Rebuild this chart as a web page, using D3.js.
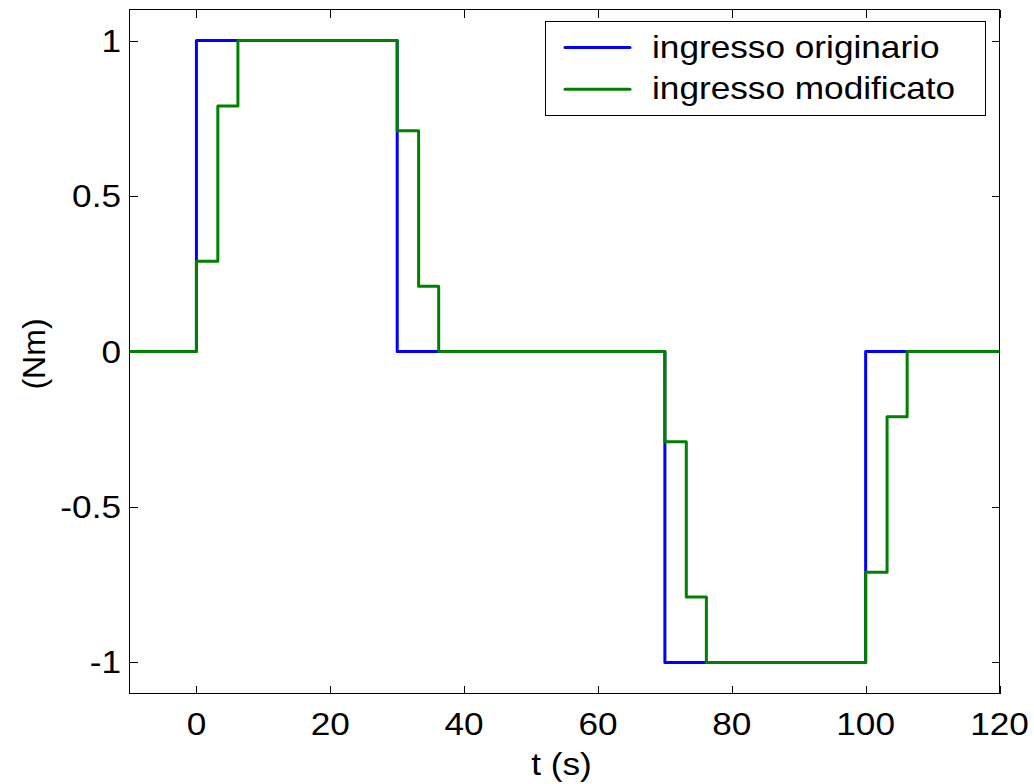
<!DOCTYPE html>
<html>
<head>
<meta charset="utf-8">
<script src="https://cdn.jsdelivr.net/npm/d3@7"></script>
<style>
  html, body { margin: 0; padding: 0; background: #fff; }
  svg { display: block; }
  text { font-family: Arial, "Liberation Sans", Helvetica, sans-serif; fill: #000; }
</style>
</head>
<body>
<svg id="chart" width="1034" height="784"></svg>
<script>
// ---- data (step signals: value holds from each time until the next) ----
const origTimes  = [-10, 0, 30, 70, 100, 120];
const origValues = [0, 1, 0, -1, 0, 0];
const modTimes   = [-10, 0, 3.2, 6.2, 30, 33.2, 36.2, 70, 73.2, 76.2, 100, 103.2, 106.2, 120];
const modValues  = [0, 0.29, 0.79, 1, 0.71, 0.21, 0, -0.29, -0.79, -1, -0.71, -0.21, 0, 0];
const xTicks = [0, 20, 40, 60, 80, 100, 120];
const yTicks = [-1, -0.5, 0, 0.5, 1];
const seriesNames = ["ingresso originario", "ingresso modificato"];
const seriesColors = ["#0000ff", "#008000"];
const xLabel = "t (s)";
const yLabel = "(Nm)";

const svg = d3.select("#chart");
const L = 129.5, R = 999.5, T = 9.5, B = 693.5;
const x = d3.scaleLinear().domain([-10, 120]).range([L, R]);
const y = d3.scaleLinear().domain([-1.1, 1.1]).range([B, T]);
const FS = 32, SX = 1.1;

const tickLen = 8;
const axes = svg.append("g").attr("stroke", "#000").attr("stroke-width", 1).attr("shape-rendering", "crispEdges");
axes.append("rect").attr("x", L).attr("y", T).attr("width", R - L).attr("height", B - T).attr("fill", "none");
xTicks.forEach(t => {
  const px = Math.round(x(t)) + 0.5;
  axes.append("line").attr("x1", px).attr("x2", px).attr("y1", B).attr("y2", B - tickLen);
  axes.append("line").attr("x1", px).attr("x2", px).attr("y1", T).attr("y2", T + tickLen);
});
yTicks.forEach(v => {
  const py = Math.round(y(v)) + 0.5;
  axes.append("line").attr("x1", L).attr("x2", L + tickLen).attr("y1", py).attr("y2", py);
  axes.append("line").attr("x1", R).attr("x2", R - tickLen).attr("y1", py).attr("y2", py);
});

function label(txt, px, py, anchor) {
  svg.append("text")
    .attr("transform", `translate(${px},${py}) scale(${SX},1)`)
    .attr("text-anchor", anchor)
    .attr("font-size", FS)
    .text(txt);
}
xTicks.forEach(t => label(String(t), x(t), 735, "middle"));
yTicks.forEach(v => label(String(v), 121, y(v) + 11, "end"));
label(xLabel, (L + R) / 2 - 3, 775, "middle");
svg.append("text")
  .attr("transform", `translate(45,354) rotate(-90)`)
  .attr("text-anchor", "middle")
  .attr("font-size", FS)
  .text(yLabel);

// ---- lines ----
const line = d3.line().x(d => x(d[0])).y(d => y(d[1])).curve(d3.curveStepAfter);
const series = [
  origTimes.map((t, i) => [t, origValues[i]]),
  modTimes.map((t, i) => [t, modValues[i]])
];
const plot = svg.append("g");
series.forEach((s, i) => {
  plot.append("path").datum(s).attr("d", line)
    .attr("fill", "none").attr("stroke", seriesColors[i])
    .attr("stroke-width", 3).attr("stroke-linejoin", "round");
});

// ---- legend ----
const lg = svg.append("g");
lg.append("rect").attr("x", 545.5).attr("y", 21.5).attr("width", 440).attr("height", 94)
  .attr("fill", "#fff").attr("stroke", "#000").attr("stroke-width", 1).attr("shape-rendering", "crispEdges");
seriesNames.forEach((n, i) => {
  const ly = 47.5 + i * 41.7;
  lg.append("line").attr("x1", 565).attr("x2", 630).attr("y1", ly).attr("y2", ly)
    .attr("stroke", seriesColors[i]).attr("stroke-width", 3).attr("stroke-linecap", "round");
  svg.append("text")
    .attr("transform", `translate(652,${ly + 10}) scale(${SX},1)`)
    .attr("font-size", FS)
    .text(n);
});
</script>
</body>
</html>
